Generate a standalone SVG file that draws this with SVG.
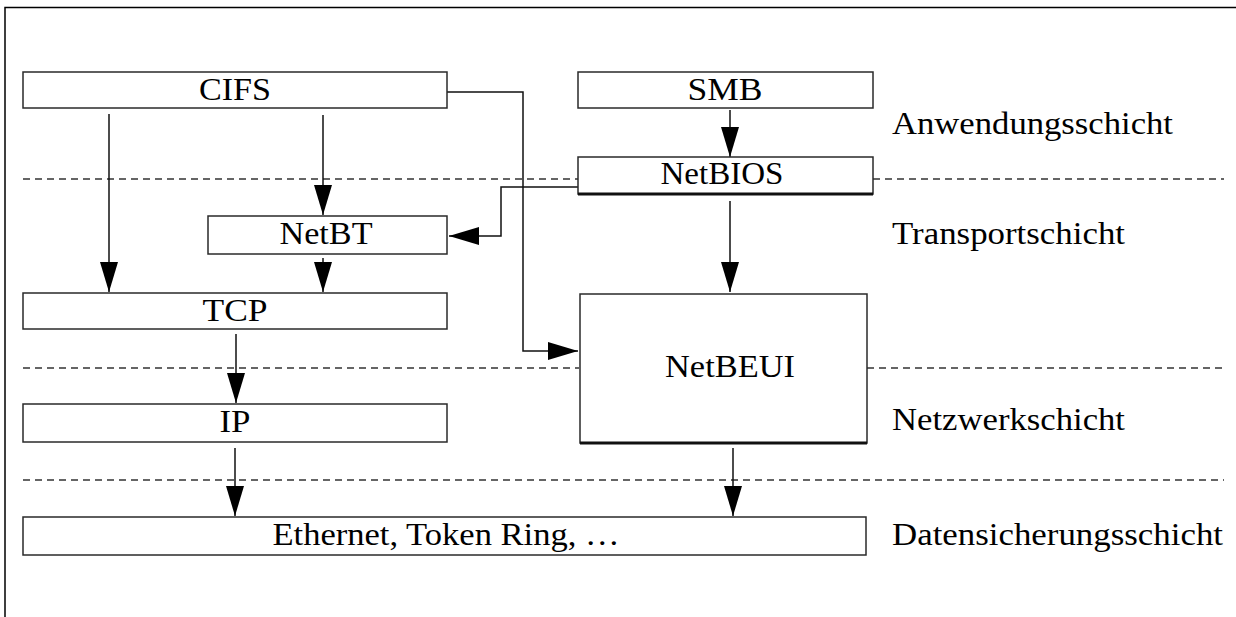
<svg xmlns="http://www.w3.org/2000/svg" width="1236" height="617" viewBox="0 0 1236 617">
  <style>
    .box { fill: #ffffff; stroke: #2a2a2a; stroke-width: 1.5; }
    .base { stroke: #111; stroke-width: 3; }
    .lbl { font-family: "Liberation Serif", "Times New Roman", Times, "DejaVu Serif", serif; font-size: 31px; fill: #000; }
    .mid { text-anchor: middle; }
    .layer { stroke: #333; stroke-width: 1.3; stroke-dasharray: 7 5; fill: none; }
    .conn { stroke: #111; stroke-width: 1.5; fill: none; }
    .frame { stroke: #000; stroke-width: 1.5; fill: none; }
  </style>
  <defs>
    <marker id="head" viewBox="0 0 30 18" refX="30" refY="9" markerWidth="30" markerHeight="18" markerUnits="userSpaceOnUse" orient="auto">
      <path d="M0,0 L30,9 L0,18 Z" fill="#000"/>
    </marker>
  </defs>

  <rect width="1236" height="617" fill="#ffffff"/>
  <!-- outer frame edges -->
  <path class="frame" d="M5,617 V7.5 H1236"/>

  <!-- layer separators -->
  <g id="layers">
    <path class="layer" d="M23,179 H578 M873,179 H1224"/>
    <path class="layer" d="M23,368 H579 M867,368 H1224"/>
    <path class="layer" d="M23,480 H1224"/>
  </g>

  <!-- layer names -->
  <g id="layer-names">
    <text class="lbl" x="892" y="134" textLength="281" lengthAdjust="spacingAndGlyphs">Anwendungsschicht</text>
    <text class="lbl" x="892" y="244" textLength="233" lengthAdjust="spacingAndGlyphs">Transportschicht</text>
    <text class="lbl" x="892" y="430" textLength="233" lengthAdjust="spacingAndGlyphs">Netzwerkschicht</text>
    <text class="lbl" x="892" y="545" textLength="331" lengthAdjust="spacingAndGlyphs">Datensicherungsschicht</text>
  </g>

  <g id="connectors">
    <line class="conn" x1="109" y1="114" x2="109" y2="292" marker-end="url(#head)"/>
    <line class="conn" x1="323" y1="115" x2="323" y2="215" marker-end="url(#head)"/>
    <line class="conn" x1="323" y1="258" x2="323" y2="292" marker-end="url(#head)"/>
    <line class="conn" x1="236" y1="334" x2="236" y2="403" marker-end="url(#head)"/>
    <line class="conn" x1="235" y1="448" x2="235" y2="516" marker-end="url(#head)"/>
    <line class="conn" x1="733" y1="448" x2="733" y2="516" marker-end="url(#head)"/>
    <line class="conn" x1="730" y1="110" x2="730" y2="157" marker-end="url(#head)"/>
    <line class="conn" x1="730" y1="201" x2="730" y2="292" marker-end="url(#head)"/>
    <path class="conn" d="M578,187 H501 V236 H449" marker-end="url(#head)"/>
    <path class="conn" d="M447,92 H523 V351 H578" marker-end="url(#head)"/>
  </g>

  <g id="cifs">
    <rect class="box" x="23" y="72" width="424" height="36"/>
    <text class="lbl mid" x="235" y="100" textLength="72" lengthAdjust="spacingAndGlyphs">CIFS</text>
  </g>
  <g id="smb">
    <rect class="box" x="578" y="72" width="295" height="36"/>
    <text class="lbl mid" x="725" y="100" textLength="75" lengthAdjust="spacingAndGlyphs">SMB</text>
  </g>
  <g id="netbios">
    <rect class="box" x="578" y="157" width="295" height="37"/>
    <line class="base" x1="578" y1="194" x2="873" y2="194"/>
    <text class="lbl mid" x="722" y="184" textLength="123" lengthAdjust="spacingAndGlyphs">NetBIOS</text>
  </g>
  <g id="netbt">
    <rect class="box" x="208" y="216" width="239" height="38"/>
    <text class="lbl mid" x="326" y="244" textLength="93" lengthAdjust="spacingAndGlyphs">NetBT</text>
  </g>
  <g id="tcp">
    <rect class="box" x="23" y="293" width="424" height="36"/>
    <text class="lbl mid" x="235" y="321" textLength="65" lengthAdjust="spacingAndGlyphs">TCP</text>
  </g>
  <g id="netbeui">
    <rect class="box" x="580" y="294" width="287" height="149"/>
    <line class="base" x1="580" y1="443" x2="867" y2="443"/>
    <text class="lbl mid" x="730" y="377" textLength="130" lengthAdjust="spacingAndGlyphs">NetBEUI</text>
  </g>
  <g id="ip">
    <rect class="box" x="23" y="404" width="424" height="38"/>
    <text class="lbl mid" x="235" y="432" textLength="31" lengthAdjust="spacingAndGlyphs">IP</text>
  </g>
  <g id="ethernet">
    <rect class="box" x="23" y="517" width="843" height="38"/>
    <text class="lbl mid" x="446" y="545" textLength="347" lengthAdjust="spacingAndGlyphs">Ethernet, Token Ring, …</text>
  </g>
</svg>
